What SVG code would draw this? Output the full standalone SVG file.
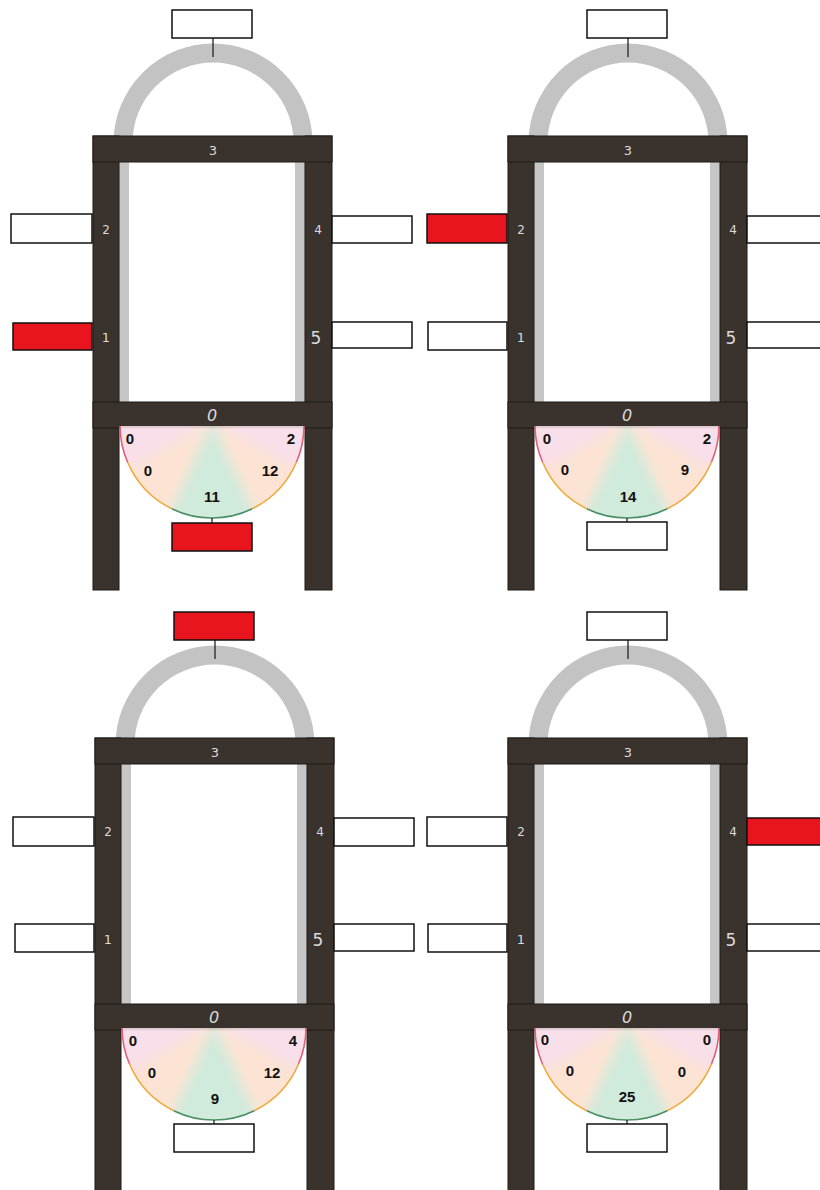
<svg xmlns="http://www.w3.org/2000/svg" width="820" height="1190" viewBox="0 0 820 1190">
<defs>
<style>
.frame{fill:#3a322d;stroke:#1f1a17;stroke-width:1}
.strip{fill:#c6c6c6}
.arc{fill:none;stroke:#c3c3c3;stroke-width:19}
.box{fill:#fff;stroke:#111;stroke-width:1.5}
.red{fill:#e8141e}
.conn{stroke:#222;stroke-width:1.3}
.hand{font-family:"DejaVu Sans",sans-serif;fill:#dadada;text-anchor:middle}
.val{font-family:"Liberation Sans",Arial,sans-serif;font-weight:bold;font-size:15px;fill:#111;text-anchor:middle}
.pink{fill:#f8dfe9}
.peach{fill:#fde3d3}
.green{fill:#d0eadb}
.sf{fill:none;stroke:#e0607a;stroke-width:1.6}
.sm{fill:none;stroke:#f0a83a;stroke-width:1.6}
.sc{fill:none;stroke:#4a8f66;stroke-width:1.6}
</style>
<clipPath id="semi"><path d="M120 426 A92 92 0 0 0 304 426 Z"/></clipPath>
<filter id="soft" x="-20%" y="-20%" width="140%" height="140%"><feGaussianBlur stdDeviation="6"/></filter>
<g id="frameShape">
<path class="arc" d="M123 143 A90 90 0 0 1 303 143"/>
<rect class="strip" x="119" y="160" width="10" height="244"/>
<rect class="strip" x="295" y="160" width="10" height="244"/>
<rect class="frame" x="93" y="136" width="26" height="454"/>
<rect class="frame" x="305" y="136" width="27" height="454"/>
<rect class="frame" x="93" y="136" width="239" height="26"/>
<rect class="frame" x="93" y="402" width="239" height="26"/>
<g clip-path="url(#semi)">
<g filter="url(#soft)">
<polygon class="pink" points="212,420 330,420 330,426 322,426 309.1,477.6"/>
<polygon class="peach" points="212,420 309.1,477.6 260.2,524.9"/>
<polygon class="green" points="212,420 260.2,524.9 163.8,524.9"/>
<polygon class="peach" points="212,420 163.8,524.9 114.9,477.6"/>
<polygon class="pink" points="212,420 114.9,477.6 102,426 94,426 94,420"/>
</g>
</g>
<path class="sf" d="M304 426 A92 92 0 0 1 296.5 462"/>
<path class="sm" d="M296.5 462 A92 92 0 0 1 252.3 508.7"/>
<path class="sc" d="M252.3 508.7 A92 92 0 0 1 171.7 508.7"/>
<path class="sm" d="M171.7 508.7 A92 92 0 0 1 127.5 462"/>
<path class="sf" d="M127.5 462 A92 92 0 0 1 120 426"/>
<text class="hand" x="213" y="155" font-size="13">3</text>
<text class="hand" x="212" y="421" font-size="16" font-style="italic">0</text>
<text class="hand" x="106" y="234" font-size="12">2</text>
<text class="hand" x="106" y="342" font-size="13">1</text>
<text class="hand" x="318" y="234" font-size="12">4</text>
<text class="hand" x="316" y="344" font-size="17">5</text>
</g>
</defs>

<!-- Top-left panel -->
<g id="panel-tl">
<use href="#frameShape"/>
<g id="connectors-tl">
<line class="conn" x1="213" y1="38" x2="213" y2="57"/>
<line class="conn" x1="212" y1="518" x2="212" y2="523"/>
</g>
<g id="tl-top"><rect class="box" x="172" y="10" width="80" height="28"/></g>
<g id="tl-s2"><rect class="box" x="11" y="214" width="81" height="29"/></g>
<g id="tl-s1"><rect class="box red" x="13" y="323" width="79" height="27"/></g>
<g id="tl-s4"><rect class="box" x="332" y="216" width="80" height="27"/></g>
<g id="tl-s5"><rect class="box" x="332" y="322" width="80" height="26"/></g>
<g id="tl-bottom"><rect class="box red" x="172" y="523" width="80" height="28"/></g>
<g id="tl-values">
<text class="val" x="130" y="444">0</text>
<text class="val" x="148" y="476">0</text>
<text class="val" x="212" y="502">11</text>
<text class="val" x="270" y="476">12</text>
<text class="val" x="291" y="444">2</text>
</g>
</g>

<!-- Top-right panel -->
<g id="panel-tr" transform="translate(415,0)">
<use href="#frameShape"/>
<g id="connectors-tr">
<line class="conn" x1="213" y1="38" x2="213" y2="57"/>
<line class="conn" x1="212" y1="518" x2="212" y2="523"/>
</g>
<g id="tr-top"><rect class="box" x="172" y="10" width="80" height="28"/></g>
<g id="tr-s2"><rect class="box red" x="12" y="214" width="80" height="29"/></g>
<g id="tr-s1"><rect class="box" x="13" y="322" width="79" height="28"/></g>
<g id="tr-s4"><rect class="box" x="332" y="216" width="80" height="27"/></g>
<g id="tr-s5"><rect class="box" x="332" y="322" width="80" height="26"/></g>
<g id="tr-bottom"><rect class="box" x="172" y="522" width="80" height="28"/></g>
<g id="tr-values">
<text class="val" x="132" y="444">0</text>
<text class="val" x="150" y="475">0</text>
<text class="val" x="213" y="502">14</text>
<text class="val" x="270" y="475">9</text>
<text class="val" x="292" y="444">2</text>
</g>
</g>

<!-- Bottom-left panel -->
<g id="panel-bl" transform="translate(2,602)">
<use href="#frameShape"/>
<g id="connectors-bl">
<line class="conn" x1="213" y1="38" x2="213" y2="57"/>
<line class="conn" x1="212" y1="518" x2="212" y2="522"/>
</g>
<g id="bl-top"><rect class="box red" x="172" y="10" width="80" height="28"/></g>
<g id="bl-s2"><rect class="box" x="11" y="215" width="81" height="29"/></g>
<g id="bl-s1"><rect class="box" x="13" y="322" width="79" height="28"/></g>
<g id="bl-s4"><rect class="box" x="332" y="216" width="80" height="28"/></g>
<g id="bl-s5"><rect class="box" x="332" y="322" width="80" height="27"/></g>
<g id="bl-bottom"><rect class="box" x="172" y="522" width="80" height="28"/></g>
<g id="bl-values">
<text class="val" x="131" y="444">0</text>
<text class="val" x="150" y="476">0</text>
<text class="val" x="213" y="502">9</text>
<text class="val" x="270" y="476">12</text>
<text class="val" x="291" y="444">4</text>
</g>
</g>

<!-- Bottom-right panel -->
<g id="panel-br" transform="translate(415,602)">
<use href="#frameShape"/>
<g id="connectors-br">
<line class="conn" x1="213" y1="38" x2="213" y2="57"/>
<line class="conn" x1="212" y1="518" x2="212" y2="522"/>
</g>
<g id="br-top"><rect class="box" x="172" y="10" width="80" height="28"/></g>
<g id="br-s2"><rect class="box" x="12" y="215" width="80" height="29"/></g>
<g id="br-s1"><rect class="box" x="13" y="322" width="79" height="28"/></g>
<g id="br-s4"><rect class="box red" x="332" y="216" width="80" height="27"/></g>
<g id="br-s5"><rect class="box" x="332" y="322" width="80" height="27"/></g>
<g id="br-bottom"><rect class="box" x="172" y="522" width="80" height="28"/></g>
<g id="br-values">
<text class="val" x="130" y="443">0</text>
<text class="val" x="155" y="474">0</text>
<text class="val" x="212" y="500">25</text>
<text class="val" x="267" y="475">0</text>
<text class="val" x="292" y="443">0</text>
</g>
</g>
</svg>
